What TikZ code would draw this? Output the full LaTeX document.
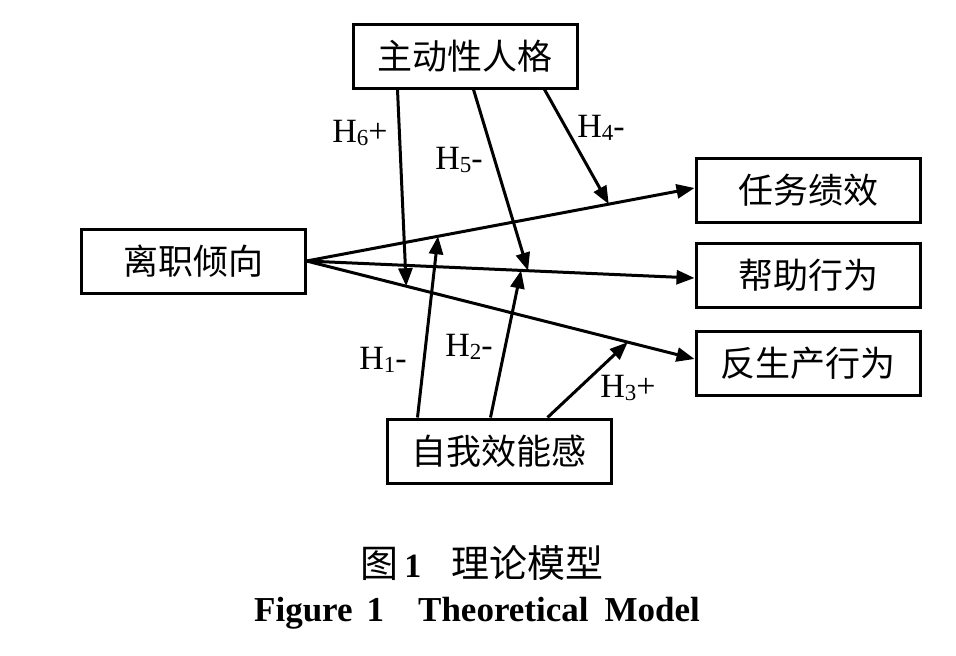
\documentclass[tikz,border=0pt]{standalone}
\usepackage{fontspec}
\setmainfont{Liberation Serif}
\newfontfamily\cjk{Noto Sans CJK SC}
\usetikzlibrary{arrows.meta}

\newcommand{\hlab}[2]{H\raisebox{-3pt}{\fontsize{23}{23}\selectfont #1}#2}

\begin{document}
\begin{tikzpicture}[
  x=1pt, y=-1pt,
  box/.style={draw, line width=3pt, inner sep=0pt, minimum width=224pt, minimum height=64pt, font=\cjk\fontsize{35}{38}\selectfont},
  arr/.style={line width=3pt, -{Triangle[length=18pt,width=14pt]}},
  hyp/.style={font=\fontsize{34}{36}\selectfont},
]
\useasboundingbox (0,0) rectangle (956,656);

\node [box] (zd) at (465,56) {主动性人格};
\node [box] (lz) at (193,261) {离职倾向};
\node [box] (rw) at (808,190) {任务绩效};
\node [box] (bz) at (808,275) {帮助行为};
\node [box] (fs) at (808,363) {反生产行为};
\node [box] (zw) at (499,451) {自我效能感};

\draw [arr] (lz.east) -- ([yshift=2pt]rw.west) coordinate [pos=0.779] (p4) coordinate [pos=0.339] (p1);
\draw [arr] (lz.east) -- ([yshift=-3pt]bz.west) coordinate [pos=0.571] (p5) coordinate [pos=0.553] (p2);
\draw [arr] (lz.east) -- ([yshift=4pt]fs.west) coordinate [pos=0.257] (p6) coordinate [pos=0.828] (p3);

\draw [arr] ([xshift=46pt]zd.south west) -- (p6);
\draw [arr] ([xshift=122pt]zd.south west) -- (p5);
\draw [arr] ([xshift=193pt]zd.south west) -- (p4);

\draw [arr] ([xshift=32pt]zw.north west) -- (p1);
\draw [arr] ([xshift=105pt]zw.north west) -- (p2);
\draw [arr] ([xshift=162pt]zw.north west) -- (p3);

\node [hyp] (h6) at (360,133) {\hlab{6}{+}};
\node [hyp] (h5) at (459,160) {\hlab{5}{-}};
\node [hyp] (h4) at (601,128) {\hlab{4}{-}};
\node [hyp] (h1) at (383,360) {\hlab{1}{-}};
\node [hyp] (h2) at (469,347) {\hlab{2}{-}};
\node [hyp] (h3) at (628,388) {\hlab{3}{+}};

\node (cap) at (482,563) {{\cjk\fontsize{38}{40}\selectfont 图}{\fontsize{34}{36}\selectfont\bfseries\,1}\hspace{30pt}{\cjk\fontsize{38}{40}\selectfont 理论模型}};
\node (capen) at (477,613) {\fontsize{35}{38}\selectfont\bfseries Figure\hspace{14pt}1\hspace{34pt}Theoretical\hspace{16pt}Model};

\end{tikzpicture}
\end{document}
